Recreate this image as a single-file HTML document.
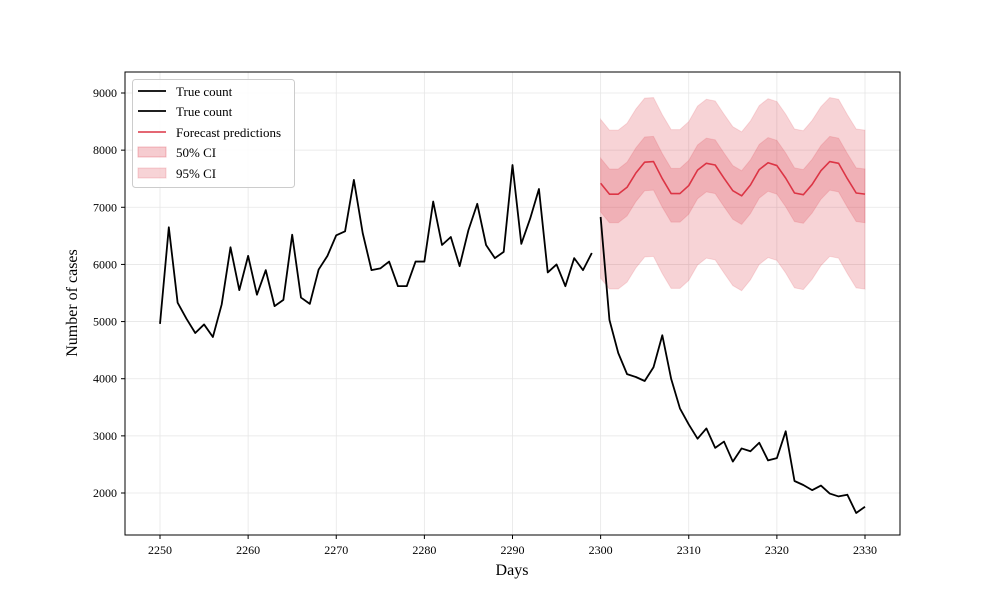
<!DOCTYPE html>
<html><head><meta charset="utf-8"><style>
body{margin:0;background:#fff;}
svg text{font-family:"Liberation Serif",serif;fill:#000;}
</style></head><body>
<svg id="chart" width="1000" height="600" xmlns="http://www.w3.org/2000/svg">
<rect width="1000" height="600" fill="#fff"/>
<g id="grid"></g>
<g id="bands"></g>
<g id="lines"></g>
<rect x="125" y="72" width="775" height="463" fill="none" stroke="#000" stroke-width="1"/>
<g id="ticks"></g>
<text x="512" y="575" font-size="16" text-anchor="middle">Days</text>
<text transform="translate(77,303) rotate(-90)" font-size="16" text-anchor="middle">Number of cases</text>
<g>
<rect x="132.5" y="79.5" width="162" height="108" rx="3" fill="#fff" fill-opacity="0.85" stroke="#ccc"/>
<g><line x1="138" y1="91" x2="166" y2="91" stroke="#000" stroke-width="1.8"/><text x="176" y="96" font-size="13">True count</text></g>
<g><line x1="138" y1="111" x2="166" y2="111" stroke="#000" stroke-width="1.8"/><text x="176" y="116" font-size="13">True count</text></g>
<g><line x1="138" y1="132" x2="166" y2="132" stroke="#dc3545" stroke-width="1.5"/><text x="176" y="137" font-size="13">Forecast predictions</text></g>
<g><rect x="138" y="147" width="28" height="10" fill="#dc3545" fill-opacity="0.25" stroke="#dc3545" stroke-opacity="0.3"/><text x="176" y="157" font-size="13">50% CI</text></g>
<g><rect x="138" y="168" width="28" height="10" fill="#dc3545" fill-opacity="0.22" stroke="#dc3545" stroke-opacity="0.2"/><text x="176" y="178" font-size="13">95% CI</text></g>
</g>
</svg>
<script>
const histDays=[2250,2251,2252,2253,2254,2255,2256,2257,2258,2259,2260,2261,2262,2263,2264,2265,2266,2267,2268,2269,2270,2271,2272,2273,2274,2275,2276,2277,2278,2279,2280,2281,2282,2283,2284,2285,2286,2287,2288,2289,2290,2291,2292,2293,2294,2295,2296,2297,2298,2299];
const histCounts=[4960,6650,5330,5050,4800,4950,4730,5300,6300,5550,6150,5470,5900,5270,5380,6520,5420,5310,5910,6150,6510,6580,7480,6550,5900,5930,6050,5620,5620,6050,6050,7100,6340,6480,5970,6600,7060,6340,6110,6220,7740,6360,6800,7320,5860,6000,5620,6110,5900,6200];
const fcDays=[2300,2301,2302,2303,2304,2305,2306,2307,2308,2309,2310,2311,2312,2313,2314,2315,2316,2317,2318,2319,2320,2321,2322,2323,2324,2325,2326,2327,2328,2329,2330];
const trueCounts=[6830,5030,4450,4080,4030,3960,4200,4760,4000,3480,3200,2950,3130,2790,2900,2550,2780,2730,2880,2570,2610,3080,2210,2140,2050,2130,1990,1940,1970,1650,1760];
const fcMean=[7420,7230,7230,7350,7600,7790,7800,7500,7240,7240,7380,7650,7770,7740,7510,7290,7200,7390,7660,7780,7730,7510,7250,7220,7400,7640,7800,7770,7500,7250,7230];
const upper50=[7860,7670,7670,7790,8040,8230,8240,7940,7680,7680,7820,8090,8210,8180,7950,7730,7640,7830,8100,8220,8170,7950,7690,7660,7840,8080,8240,8210,7940,7690,7670];
const lower50=[6920,6730,6730,6850,7100,7290,7300,7000,6740,6740,6880,7150,7270,7240,7010,6790,6700,6890,7160,7280,7230,7010,6750,6720,6900,7140,7300,7270,7000,6750,6730];
const upper95=[8540,8350,8350,8470,8720,8910,8920,8620,8360,8360,8500,8770,8890,8860,8630,8410,8320,8510,8780,8900,8850,8630,8370,8340,8520,8760,8920,8890,8620,8370,8350];
const lower95=[5760,5570,5570,5690,5940,6130,6140,5840,5580,5580,5720,5990,6110,6080,5850,5630,5540,5730,6000,6120,6070,5850,5590,5560,5740,5980,6140,6110,5840,5590,5570];
const xTicks=[2250,2260,2270,2280,2290,2300,2310,2320,2330];
const yTicks=[2000,3000,4000,5000,6000,7000,8000,9000];

const NS="http://www.w3.org/2000/svg";
const X=d=>160+(d-2250)*(705/80);
const Y=v=>493-(v-2000)*(400/7000);
function mk(tag,attrs,parent){const e=document.createElementNS(NS,tag);for(const k in attrs)e.setAttribute(k,attrs[k]);parent.appendChild(e);return e;}
const grid=document.getElementById('grid'),ticks=document.getElementById('ticks'),bands=document.getElementById('bands'),lines=document.getElementById('lines');
xTicks.forEach(t=>{
  const g=mk('line',{x1:X(t),x2:X(t),y1:72,y2:535,stroke:'#e6e6e6','stroke-width':0.8},grid);
  
  
  const tk=mk('line',{x1:X(t),x2:X(t),y1:535,y2:539,stroke:'#000'},ticks);
  
  
  const tx=mk('text',{x:X(t),y:554,'font-size':12,'text-anchor':'middle'},ticks);
  tx.textContent=t;
  
  
});
yTicks.forEach(t=>{
  const g=mk('line',{x1:125,x2:900,y1:Y(t),y2:Y(t),stroke:'#e6e6e6','stroke-width':0.8},grid);
  
  
  const tk=mk('line',{x1:121,x2:125,y1:Y(t),y2:Y(t),stroke:'#000'},ticks);
  
  
  const tx=mk('text',{x:117,y:Y(t)+4,'font-size':12,'text-anchor':'end'},ticks);
  tx.textContent=t;
  
  
});
function band(up,lo,name,op){
  let d='M'+fcDays.map((dd,i)=>X(dd)+','+Y(up[i])).join('L');
  for(let i=fcDays.length-1;i>=0;i--)d+='L'+X(fcDays[i])+','+Y(lo[i]);
  const p=mk('path',{d:d+'Z',fill:'#dc3545','fill-opacity':op,stroke:'#dc3545','stroke-opacity':0.15},bands);
  
  
}
band(upper95,lower95,'ci-95-band',0.22);
band(upper50,lower50,'ci-50-band',0.22);
function line(xs,ys,color,w,name){
  const p=mk('polyline',{points:xs.map((d,i)=>X(d)+','+Y(ys[i])).join(' '),fill:'none',stroke:color,'stroke-width':w,'stroke-linejoin':'round'},lines);
  
  
}
line(histDays,histCounts,'#000',1.8,'true-count-history-line');
line(fcDays,trueCounts,'#000',1.8,'true-count-forecast-period-line');
line(fcDays,fcMean,'#dc3545',1.6,'forecast-mean-line');
</script>
</body></html>
